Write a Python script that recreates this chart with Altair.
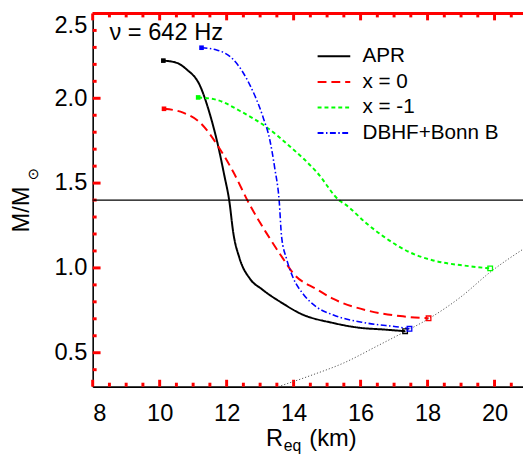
import altair as alt
import pandas as pd

# ---------------- data ----------------
series = ["APR", "x = 0", "x = -1", "DBHF+Bonn B"]
colors = ["#000000", "#ff0000", "#00ff00", "#0000ff"]
dashes = [[1, 0], [9, 5], [4, 3], [6, 2.5, 1.5, 2.5]]
widths = [2.0, 2.0, 2.0, 1.6]

apr_r = [10.11, 10.51, 10.80, 11.20, 11.50, 11.75, 11.93, 12.08, 12.20, 12.38, 12.70, 13.05, 13.69, 14.19, 15.19, 15.98, 16.68, 17.33]
apr_m = [2.222, 2.209, 2.171, 2.076, 1.906, 1.716, 1.546, 1.394, 1.205, 1.060, 0.935, 0.875, 0.789, 0.732, 0.675, 0.647, 0.637, 0.627]

x0_r = [10.13, 10.70, 11.20, 11.75, 12.20, 12.68, 13.19, 13.69, 13.99, 14.69, 15.19, 16.18, 17.18, 18.03]
x0_m = [1.938, 1.915, 1.858, 1.716, 1.565, 1.376, 1.205, 1.053, 0.968, 0.874, 0.817, 0.750, 0.716, 0.703]

xm1_r = [11.15, 11.70, 12.40, 13.19, 13.89, 14.69, 15.39, 15.53, 16.18, 16.68, 17.48, 18.17, 19.17, 19.87]
xm1_m = [2.005, 1.991, 1.925, 1.830, 1.716, 1.565, 1.394, 1.376, 1.262, 1.186, 1.091, 1.044, 1.012, 0.997]

dbhf_r = [11.25, 11.70, 12.20, 12.70, 13.09, 13.29, 13.44, 13.57, 13.64, 13.79, 13.99, 14.29, 14.69, 15.19, 16.18, 17.18, 17.46]
dbhf_m = [2.298, 2.285, 2.228, 2.076, 1.887, 1.754, 1.584, 1.394, 1.186, 1.053, 0.940, 0.845, 0.769, 0.722, 0.675, 0.650, 0.641]

kepler_r = [13.54, 14.50, 15.50, 16.50, 17.33, 18.03, 19.00, 19.87, 20.85]
kepler_m = [0.300, 0.365, 0.440, 0.540, 0.625, 0.700, 0.830, 0.975, 1.110]

hline_m = [1.4]

x_domain = [8, 20.85]
y_domain = [0.3, 2.5]
x_major = [8, 10, 12, 14, 16, 18, 20]
x_minor = [8.5, 9, 9.5, 10.5, 11, 11.5, 12.5, 13, 13.5, 14.5, 15, 15.5, 16.5, 17, 17.5, 18.5, 19, 19.5, 20.5]
y_major = [0.5, 1.0, 1.5, 2.0, 2.5]
y_minor = [0.4, 0.6, 0.7, 0.8, 0.9, 1.1, 1.2, 1.3, 1.4, 1.6, 1.7, 1.8, 1.9, 2.1, 2.2, 2.3, 2.4]

W, H = 437, 379
FONT = "Liberation Sans"
px_x = (x_domain[1] - x_domain[0]) / W
px_y = (y_domain[1] - y_domain[0]) / H
MAJ, MIN = 7, 4

rows = []
for s, c, w, rr, mm in zip(series, colors, widths,
                           [apr_r, x0_r, xm1_r, dbhf_r], [apr_m, x0_m, xm1_m, dbhf_m]):
    for i, (r, m) in enumerate(zip(rr, mm)):
        rows.append({"series": s, "R": r, "M": m, "i": i, "hex": c, "sw": w,
                     "first": i == 0, "last": i == len(rr) - 1})
df = pd.DataFrame(rows)
starts = df[df["first"]]
ends = df[df["last"]]
kep = pd.DataFrame({"R": kepler_r, "M": kepler_m})
hl = pd.DataFrame({"M": hline_m})

tick_rows = []
for vals, ln in ((x_major, MAJ), (x_minor, MIN)):
    for v in vals:
        tick_rows.append({"tx": float(v), "tx2": float(v), "ty": y_domain[0], "ty2": y_domain[0] + ln * px_y})
        tick_rows.append({"tx": float(v), "tx2": float(v), "ty": y_domain[1], "ty2": y_domain[1] - ln * px_y})
for vals, ln in ((y_major, MAJ + 1), (y_minor, MIN)):
    for v in vals:
        tick_rows.append({"tx": float(x_domain[0]), "tx2": x_domain[0] + ln * px_x, "ty": float(v), "ty2": float(v)})
tick_rows.append({"tx": float(x_domain[0]), "tx2": float(x_domain[1]), "ty": y_domain[1], "ty2": y_domain[1]})
ticks = pd.DataFrame(tick_rows)

xs = alt.Scale(domain=x_domain, nice=False, zero=False)
ys = alt.Scale(domain=y_domain, nice=False, zero=False)

axX = alt.Axis(values=x_major, ticks=False, tickSize=0, domain=True,
               domainColor="black", domainWidth=1.6, labelFontSize=24, labelFont=FONT,
               labelColor="black", labelPadding=15, labelOverlap=False, format="d",
               grid=False, title=None)
axY = alt.Axis(values=y_major, ticks=False, tickSize=0, domain=True,
               domainColor="black", domainWidth=1.6, labelFontSize=24, labelFont=FONT,
               labelColor="black", labelPadding=6, labelOverlap=False, labelFlush=True,
               format=".1f", grid=False, title=None)

leg = alt.Legend(title=None, orient="none", legendX=227, legendY=33, symbolType="stroke",
                 symbolSize=1100, symbolStrokeWidth=2, labelFontSize=21, labelFont=FONT,
                 labelColor="black", labelOffset=11, rowPadding=4, clipHeight=21, padding=0)

tick_marks = alt.Chart(ticks).mark_rule(color="red", strokeWidth=3).encode(
    x=alt.X("tx:Q", scale=xs, axis=axX),
    x2="tx2:Q",
    y=alt.Y("ty:Q", scale=ys, axis=axY),
    y2="ty2:Q",
)

lines = alt.Chart(df).mark_line(clip=True, interpolate="monotone").encode(
    x=alt.X("R:Q"),
    y=alt.Y("M:Q"),
    color=alt.Color("series:N", scale=alt.Scale(domain=series, range=colors), legend=leg),
    strokeDash=alt.StrokeDash("series:N", scale=alt.Scale(domain=series, range=dashes), legend=leg),
    strokeWidth=alt.StrokeWidth("sw:Q", scale=None),
    order=alt.Order("i:Q"),
)

kepler = alt.Chart(kep).mark_line(clip=True, interpolate="monotone", color="#555555",
                                  strokeWidth=1, strokeDash=[1.2, 2]).encode(
    x=alt.X("R:Q"), y=alt.Y("M:Q"))

start_pts = alt.Chart(starts).mark_point(shape="square", filled=True, size=22, opacity=1).encode(
    x="R:Q", y="M:Q", color=alt.Color("hex:N", scale=None))

end_pts = alt.Chart(ends).mark_point(shape="square", filled=False, size=22, strokeWidth=1.3, opacity=1).encode(
    x="R:Q", y="M:Q", color=alt.Color("hex:N", scale=None))

hrule = alt.Chart(hl).mark_rule(color="black", strokeWidth=1.2).encode(y="M:Q")

nu = alt.Chart(hl).mark_text(text="ν = 642 Hz", align="left", baseline="alphabetic",
                             fontSize=24, font=FONT, color="black").encode(
    x=alt.value(17), y=alt.value(27))

t_R = alt.Chart(hl).mark_text(text="R", align="left", baseline="alphabetic", fontSize=24,
                              font=FONT, color="black").encode(x=alt.value(176), y=alt.value(439))
t_eq = alt.Chart(hl).mark_text(text="eq", align="left", baseline="alphabetic", fontSize=16,
                               font=FONT, color="black").encode(x=alt.value(194), y=alt.value(444))
t_km = alt.Chart(hl).mark_text(text="(km)", align="left", baseline="alphabetic", fontSize=24,
                               font=FONT, color="black").encode(x=alt.value(220), y=alt.value(439))
t_M = alt.Chart(hl).mark_text(text="M/M", angle=270, align="center", baseline="middle", fontSize=24,
                              font=FONT, color="black").encode(x=alt.value(-72), y=alt.value(199))
t_sun = alt.Chart(hl).mark_text(text="⊙", angle=270, align="center", baseline="middle", fontSize=15,
                                font="DejaVu Sans", color="black").encode(x=alt.value(-61), y=alt.value(163))

chart = alt.layer(
    tick_marks, lines, kepler, start_pts, end_pts,
    hrule, nu, t_R, t_eq, t_km, t_M, t_sun
).properties(
    width=W, height=H,
    autosize=alt.AutoSizeParams(type="none"),
    padding={"left": 86, "top": 2, "right": 0, "bottom": 75},
).configure_view(stroke="transparent").configure_axis(grid=False)

chart.save("out.html", embed_options={"renderer": "svg", "actions": False})
